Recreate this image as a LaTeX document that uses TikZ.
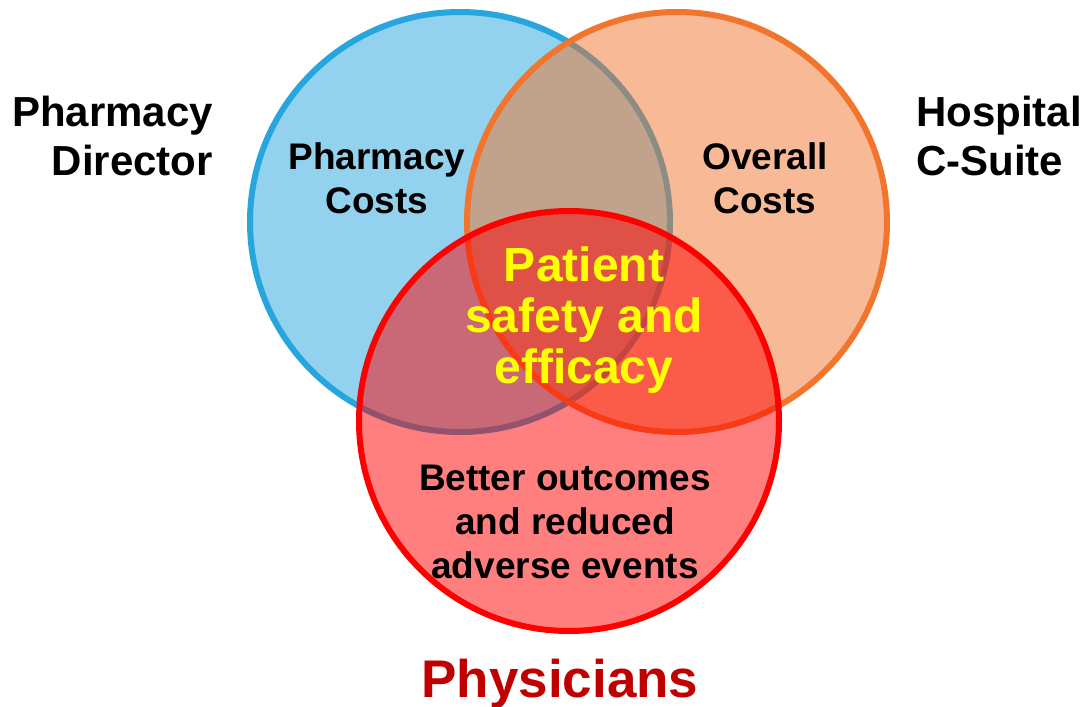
\documentclass[tikz,border=0pt]{standalone}
\usepackage{fontspec}
\setmainfont{Liberation Sans}
\definecolor{cblue}{RGB}{39,165,221}
\definecolor{corange}{RGB}{241,117,45}
\definecolor{cred}{RGB}{255,0,0}
\definecolor{cdark}{RGB}{192,0,0}
\definecolor{cyellow}{RGB}{255,255,0}
\begin{document}
\begin{tikzpicture}[x=1pt,y=-1pt,
  venn/.style={circle, minimum size=420pt, inner sep=0pt, line width=6pt, draw=#1, fill=#1, fill opacity=0.5, draw opacity=1},
  lbl/.style={font=\bfseries\fontsize{42}{49}\selectfont, inner sep=0pt},
  inlbl/.style={font=\bfseries\fontsize{37}{44}\selectfont, inner sep=0pt, align=center},
]
\useasboundingbox (0,0) rectangle (1083,706);
\node[venn=cblue] (blue) at (460,222) {};
\node[venn=corange] (orange) at (677,222) {};
\node[venn=cred] (red) at (569,421) {};
\node[lbl, align=right, anchor=east] (pd) at (213,136) {Pharmacy\\Director};
\node[lbl, align=left, anchor=west] (hc) at (916,136) {Hospital\\C-Suite};
\node[inlbl] (pc) at (377,178) {Pharmacy\\Costs};
\node[inlbl] (oc) at (765,178) {Overall\\Costs};
\node[inlbl, text=cyellow, font=\bfseries\fontsize{48}{51}\selectfont] (ps) at (584,320) {Patient\\safety and\\efficacy};
\node[inlbl] (bo) at (565,522) {Better outcomes\\and reduced\\adverse events};
\node[lbl, text=cdark, font=\bfseries\fontsize{53}{60}\selectfont, anchor=base] (ph) at (560,697) {Physicians};
\end{tikzpicture}
\end{document}
